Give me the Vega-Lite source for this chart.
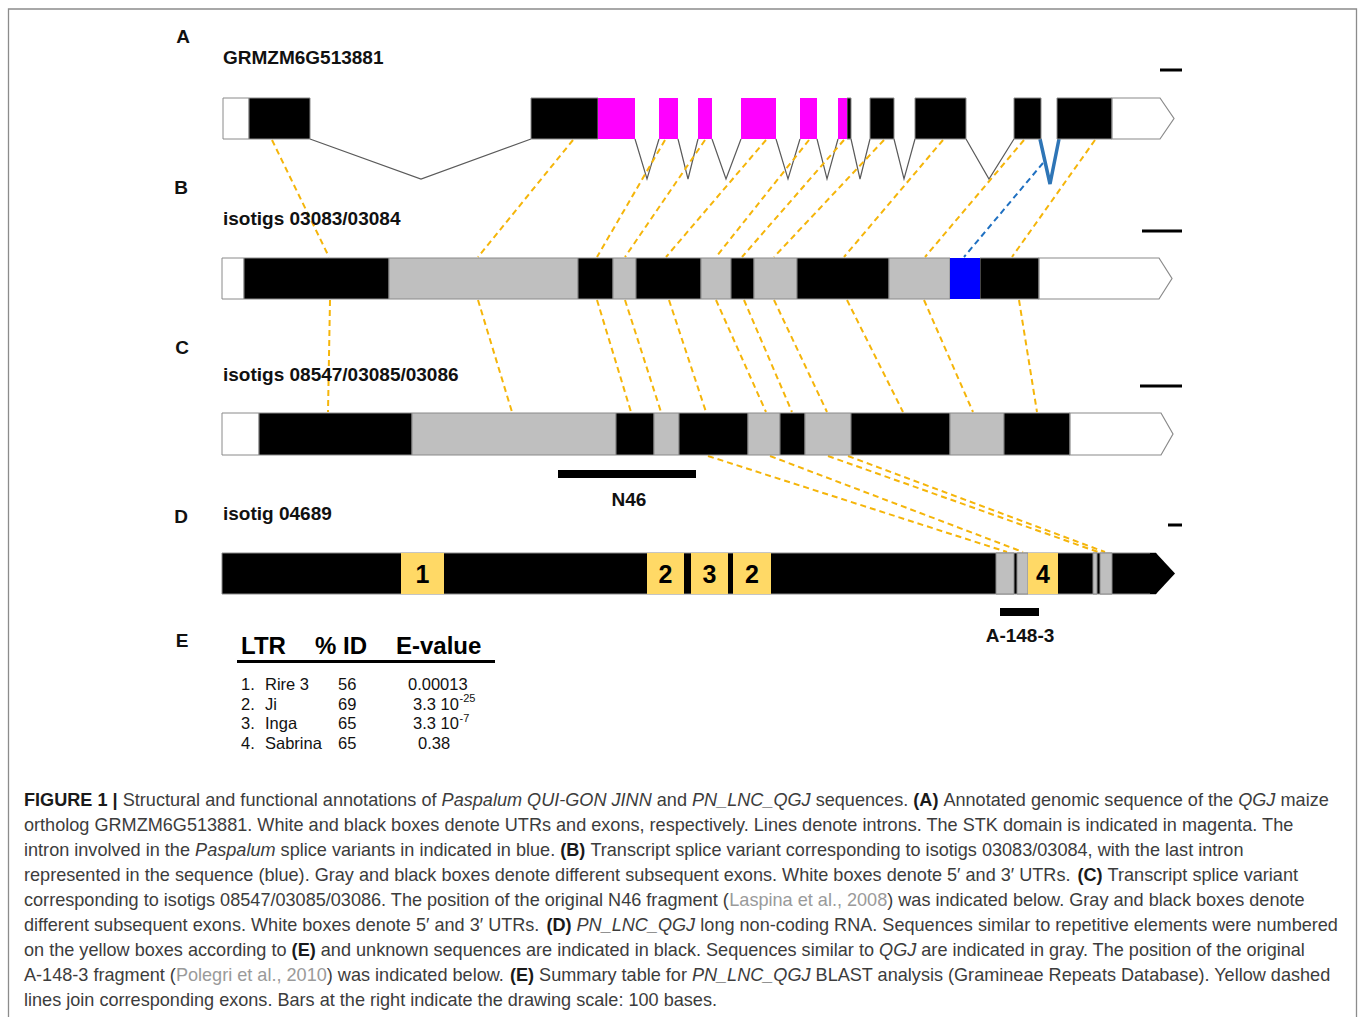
{
  "$schema": "https://vega.github.io/schema/vega-lite/v6.json",
  "width": 1358,
  "height": 1017,
  "autosize": {"type": "fit", "contains": "padding"},
  "padding": 0,
  "background": "white",
  "config": {"view": {"stroke": null}},
  "datasets": {
    "frame": [{"x": 8.5, "x2": 1356.5, "y": 9, "y2": 1040}],
    "boxes": [
      {"track": "A", "x": 223, "x2": 249, "y": 98, "y2": 139, "part": "utr"},
      {"track": "A", "x": 249, "x2": 310, "y": 98, "y2": 139, "part": "exon"},
      {"track": "A", "x": 531, "x2": 598, "y": 98, "y2": 139, "part": "exon"},
      {"track": "A", "x": 598, "x2": 635, "y": 98, "y2": 139, "part": "stk"},
      {"track": "A", "x": 659, "x2": 678, "y": 98, "y2": 139, "part": "stk"},
      {"track": "A", "x": 698, "x2": 712, "y": 98, "y2": 139, "part": "stk"},
      {"track": "A", "x": 741, "x2": 776, "y": 98, "y2": 139, "part": "stk"},
      {"track": "A", "x": 800, "x2": 817, "y": 98, "y2": 139, "part": "stk"},
      {"track": "A", "x": 838, "x2": 847, "y": 98, "y2": 139, "part": "stk"},
      {"track": "A", "x": 847, "x2": 851, "y": 98, "y2": 139, "part": "exon"},
      {"track": "A", "x": 870, "x2": 894, "y": 98, "y2": 139, "part": "exon"},
      {"track": "A", "x": 915, "x2": 966, "y": 98, "y2": 139, "part": "exon"},
      {"track": "A", "x": 1014, "x2": 1041, "y": 98, "y2": 139, "part": "exon"},
      {"track": "A", "x": 1057, "x2": 1112, "y": 98, "y2": 139, "part": "exon"},
      {"track": "B", "x": 222, "x2": 244, "y": 258, "y2": 299, "part": "utr"},
      {"track": "B", "x": 244, "x2": 389, "y": 258, "y2": 299, "part": "exon"},
      {"track": "B", "x": 389, "x2": 578, "y": 258, "y2": 299, "part": "alt"},
      {"track": "B", "x": 578, "x2": 613, "y": 258, "y2": 299, "part": "exon"},
      {"track": "B", "x": 613, "x2": 636, "y": 258, "y2": 299, "part": "alt"},
      {"track": "B", "x": 636, "x2": 701, "y": 258, "y2": 299, "part": "exon"},
      {"track": "B", "x": 701, "x2": 731, "y": 258, "y2": 299, "part": "alt"},
      {"track": "B", "x": 731, "x2": 754, "y": 258, "y2": 299, "part": "exon"},
      {"track": "B", "x": 754, "x2": 797, "y": 258, "y2": 299, "part": "alt"},
      {"track": "B", "x": 797, "x2": 889, "y": 258, "y2": 299, "part": "exon"},
      {"track": "B", "x": 889, "x2": 950, "y": 258, "y2": 299, "part": "alt"},
      {"track": "B", "x": 950, "x2": 980, "y": 258, "y2": 299, "part": "blue"},
      {"track": "B", "x": 980, "x2": 1039, "y": 258, "y2": 299, "part": "exon"},
      {"track": "C", "x": 222, "x2": 259, "y": 413, "y2": 455, "part": "utr"},
      {"track": "C", "x": 259, "x2": 412, "y": 413, "y2": 455, "part": "exon"},
      {"track": "C", "x": 412, "x2": 616, "y": 413, "y2": 455, "part": "alt"},
      {"track": "C", "x": 616, "x2": 654, "y": 413, "y2": 455, "part": "exon"},
      {"track": "C", "x": 654, "x2": 679, "y": 413, "y2": 455, "part": "alt"},
      {"track": "C", "x": 679, "x2": 748, "y": 413, "y2": 455, "part": "exon"},
      {"track": "C", "x": 748, "x2": 780, "y": 413, "y2": 455, "part": "alt"},
      {"track": "C", "x": 780, "x2": 805, "y": 413, "y2": 455, "part": "exon"},
      {"track": "C", "x": 805, "x2": 851, "y": 413, "y2": 455, "part": "alt"},
      {"track": "C", "x": 851, "x2": 950, "y": 413, "y2": 455, "part": "exon"},
      {"track": "C", "x": 950, "x2": 1004, "y": 413, "y2": 455, "part": "alt"},
      {"track": "C", "x": 1004, "x2": 1070, "y": 413, "y2": 455, "part": "exon"},
      {"track": "D", "x": 222, "x2": 1156, "y": 553, "y2": 594, "part": "exon"},
      {"track": "D", "x": 996, "x2": 1014, "y": 553, "y2": 594, "part": "similar"},
      {"track": "D", "x": 1017, "x2": 1028, "y": 553, "y2": 594, "part": "similar"},
      {"track": "D", "x": 1093, "x2": 1097, "y": 553, "y2": 594, "part": "similar"},
      {"track": "D", "x": 1100, "x2": 1112, "y": 553, "y2": 594, "part": "similar"},
      {"track": "D", "x": 401, "x2": 444, "y": 553, "y2": 594, "part": "repeat"},
      {"track": "D", "x": 647, "x2": 684, "y": 553, "y2": 594, "part": "repeat"},
      {"track": "D", "x": 691, "x2": 728, "y": 553, "y2": 594, "part": "repeat"},
      {"track": "D", "x": 733, "x2": 771, "y": 553, "y2": 594, "part": "repeat"},
      {"track": "D", "x": 1028, "x2": 1058, "y": 553, "y2": 594, "part": "repeat"}
    ],
    "arrows": [
      {"track": "A", "x": 1112, "y": 98, "y2": 139, "part": "utr"},
      {"track": "A", "x": 1160, "y": 98, "y2": 139, "part": "utr"},
      {"track": "A", "x": 1174, "y": 118.5, "y2": 118.5, "part": "utr"},
      {"track": "B", "x": 1039, "y": 258, "y2": 299, "part": "utr"},
      {"track": "B", "x": 1159, "y": 258, "y2": 299, "part": "utr"},
      {"track": "B", "x": 1172, "y": 278.5, "y2": 278.5, "part": "utr"},
      {"track": "C", "x": 1070, "y": 413, "y2": 455, "part": "utr"},
      {"track": "C", "x": 1161, "y": 413, "y2": 455, "part": "utr"},
      {"track": "C", "x": 1173, "y": 434, "y2": 434, "part": "utr"},
      {"track": "D", "x": 1150, "y": 553, "y2": 594, "part": "exon"},
      {"track": "D", "x": 1156, "y": 553, "y2": 594, "part": "exon"},
      {"track": "D", "x": 1175, "y": 573.5, "y2": 573.5, "part": "exon"}
    ],
    "introns": [
      {"id": 1, "ord": 0, "x": 310, "y": 139, "kind": "intron"},
      {"id": 1, "ord": 1, "x": 421, "y": 179, "kind": "intron"},
      {"id": 1, "ord": 2, "x": 531, "y": 139, "kind": "intron"},
      {"id": 2, "ord": 0, "x": 635, "y": 139, "kind": "intron"},
      {"id": 2, "ord": 1, "x": 647, "y": 179, "kind": "intron"},
      {"id": 2, "ord": 2, "x": 659, "y": 139, "kind": "intron"},
      {"id": 3, "ord": 0, "x": 678, "y": 139, "kind": "intron"},
      {"id": 3, "ord": 1, "x": 688, "y": 179, "kind": "intron"},
      {"id": 3, "ord": 2, "x": 698, "y": 139, "kind": "intron"},
      {"id": 4, "ord": 0, "x": 712, "y": 139, "kind": "intron"},
      {"id": 4, "ord": 1, "x": 726, "y": 179, "kind": "intron"},
      {"id": 4, "ord": 2, "x": 741, "y": 139, "kind": "intron"},
      {"id": 5, "ord": 0, "x": 776, "y": 139, "kind": "intron"},
      {"id": 5, "ord": 1, "x": 788, "y": 179, "kind": "intron"},
      {"id": 5, "ord": 2, "x": 800, "y": 139, "kind": "intron"},
      {"id": 6, "ord": 0, "x": 817, "y": 139, "kind": "intron"},
      {"id": 6, "ord": 1, "x": 827, "y": 179, "kind": "intron"},
      {"id": 6, "ord": 2, "x": 838, "y": 139, "kind": "intron"},
      {"id": 7, "ord": 0, "x": 851, "y": 139, "kind": "intron"},
      {"id": 7, "ord": 1, "x": 860, "y": 179, "kind": "intron"},
      {"id": 7, "ord": 2, "x": 870, "y": 139, "kind": "intron"},
      {"id": 8, "ord": 0, "x": 894, "y": 139, "kind": "intron"},
      {"id": 8, "ord": 1, "x": 904, "y": 179, "kind": "intron"},
      {"id": 8, "ord": 2, "x": 915, "y": 139, "kind": "intron"},
      {"id": 9, "ord": 0, "x": 966, "y": 139, "kind": "intron"},
      {"id": 9, "ord": 1, "x": 989, "y": 179, "kind": "intron"},
      {"id": 9, "ord": 2, "x": 1014, "y": 139, "kind": "intron"},
      {"id": 10, "ord": 0, "x": 1040, "y": 139, "kind": "blue"},
      {"id": 10, "ord": 1, "x": 1050, "y": 184, "kind": "blue"},
      {"id": 10, "ord": 2, "x": 1059, "y": 139, "kind": "blue"}
    ],
    "links": [
      {"x": 272, "y": 140, "x2": 329, "y2": 257, "kind": "yellow"},
      {"x": 573, "y": 140, "x2": 478, "y2": 257, "kind": "yellow"},
      {"x": 665, "y": 140, "x2": 597, "y2": 257, "kind": "yellow"},
      {"x": 705, "y": 140, "x2": 625, "y2": 257, "kind": "yellow"},
      {"x": 766, "y": 140, "x2": 666, "y2": 257, "kind": "yellow"},
      {"x": 809, "y": 140, "x2": 716, "y2": 257, "kind": "yellow"},
      {"x": 844, "y": 140, "x2": 742, "y2": 257, "kind": "yellow"},
      {"x": 884, "y": 140, "x2": 774, "y2": 257, "kind": "yellow"},
      {"x": 943, "y": 140, "x2": 844, "y2": 257, "kind": "yellow"},
      {"x": 1024, "y": 140, "x2": 925, "y2": 257, "kind": "yellow"},
      {"x": 1095, "y": 140, "x2": 1012, "y2": 257, "kind": "yellow"},
      {"x": 1043, "y": 163, "x2": 964, "y2": 257, "kind": "blue"},
      {"x": 330, "y": 300, "x2": 328, "y2": 412, "kind": "yellow"},
      {"x": 478, "y": 300, "x2": 512, "y2": 412, "kind": "yellow"},
      {"x": 597, "y": 300, "x2": 631, "y2": 412, "kind": "yellow"},
      {"x": 625, "y": 300, "x2": 661, "y2": 412, "kind": "yellow"},
      {"x": 669, "y": 300, "x2": 706, "y2": 412, "kind": "yellow"},
      {"x": 716, "y": 300, "x2": 766, "y2": 412, "kind": "yellow"},
      {"x": 744, "y": 300, "x2": 792, "y2": 412, "kind": "yellow"},
      {"x": 774, "y": 300, "x2": 827, "y2": 412, "kind": "yellow"},
      {"x": 847, "y": 300, "x2": 903, "y2": 412, "kind": "yellow"},
      {"x": 924, "y": 300, "x2": 973, "y2": 412, "kind": "yellow"},
      {"x": 1019, "y": 300, "x2": 1037, "y2": 412, "kind": "yellow"},
      {"x": 708, "y": 456, "x2": 1007, "y2": 552, "kind": "yellow"},
      {"x": 770, "y": 456, "x2": 1023, "y2": 552, "kind": "yellow"},
      {"x": 828, "y": 456, "x2": 1098, "y2": 552, "kind": "yellow"},
      {"x": 848, "y": 456, "x2": 1105, "y2": 552, "kind": "yellow"}
    ],
    "bars": [
      {"name": "scale A", "x": 1160, "x2": 1182, "y": 68.5, "y2": 71.5},
      {"name": "scale B", "x": 1142, "x2": 1182, "y": 229.5, "y2": 232.5},
      {"name": "scale C", "x": 1140, "x2": 1182, "y": 384.5, "y2": 387.5},
      {"name": "scale D", "x": 1168, "x2": 1182, "y": 523.5, "y2": 526.5},
      {"name": "N46", "x": 558, "x2": 696, "y": 470, "y2": 478},
      {"name": "A-148-3", "x": 1000, "x2": 1039, "y": 608, "y2": 616},
      {"name": "table rule", "x": 237, "x2": 495, "y": 660, "y2": 663}
    ],
    "labels": [
      {"role": "panel", "text": "A", "x": 183, "y": 37},
      {"role": "panel", "text": "B", "x": 181, "y": 188},
      {"role": "panel", "text": "C", "x": 182, "y": 348},
      {"role": "panel", "text": "D", "x": 181, "y": 517},
      {"role": "panel", "text": "E", "x": 182, "y": 641},
      {"role": "title", "text": "GRMZM6G513881", "x": 223, "y": 58},
      {"role": "title", "text": "isotigs 03083/03084", "x": 223, "y": 219},
      {"role": "title", "text": "isotigs 08547/03085/03086", "x": 223, "y": 375},
      {"role": "title", "text": "isotig 04689", "x": 223, "y": 514},
      {"role": "fragment", "text": "N46", "x": 629, "y": 500},
      {"role": "fragment", "text": "A-148-3", "x": 1020, "y": 636},
      {"role": "repeat", "text": "1", "x": 422.5, "y": 575},
      {"role": "repeat", "text": "2", "x": 665.5, "y": 575},
      {"role": "repeat", "text": "3", "x": 709.5, "y": 575},
      {"role": "repeat", "text": "2", "x": 752, "y": 575},
      {"role": "repeat", "text": "4", "x": 1043, "y": 575},
      {"role": "header", "text": "LTR", "x": 241, "y": 647},
      {"role": "header", "text": "% ID", "x": 315, "y": 647},
      {"role": "header", "text": "E-value", "x": 396, "y": 647},
      {"role": "cell", "text": "1.", "x": 241, "y": 685},
      {"role": "cell", "text": "Rire 3", "x": 265, "y": 685},
      {"role": "cell", "text": "56", "x": 338, "y": 685},
      {"role": "cell", "text": "0.00013", "x": 408, "y": 685},
      {"role": "cell", "text": "2.", "x": 241, "y": 704.5},
      {"role": "cell", "text": "Ji", "x": 265, "y": 704.5},
      {"role": "cell", "text": "69", "x": 338, "y": 704.5},
      {"role": "cell", "text": "3.3 10", "x": 413, "y": 704.5},
      {"role": "sup", "text": "-25", "x": 459.5, "y": 699},
      {"role": "cell", "text": "3.", "x": 241, "y": 724},
      {"role": "cell", "text": "Inga", "x": 265, "y": 724},
      {"role": "cell", "text": "65", "x": 338, "y": 724},
      {"role": "cell", "text": "3.3 10", "x": 413, "y": 724},
      {"role": "sup", "text": "-7", "x": 459.5, "y": 718.5},
      {"role": "cell", "text": "4.", "x": 241, "y": 743.5},
      {"role": "cell", "text": "Sabrina", "x": 265, "y": 743.5},
      {"role": "cell", "text": "65", "x": 338, "y": 743.5},
      {"role": "cell", "text": "0.38", "x": 418, "y": 743.5}
    ],
    "caption": [
      {"line": 1, "x": 24, "y": 801, "emph": "bold", "text": "FIGURE 1 |"},
      {"line": 1, "x": 122.7, "y": 801, "emph": "plain", "text": "Structural and functional annotations of"},
      {"line": 1, "x": 441.6, "y": 801, "emph": "italic", "text": "Paspalum QUI-GON JINN"},
      {"line": 1, "x": 656.8, "y": 801, "emph": "plain", "text": "and"},
      {"line": 1, "x": 692.0, "y": 801, "emph": "italic", "text": "PN_LNC_QGJ"},
      {"line": 1, "x": 815.7, "y": 801, "emph": "plain", "text": "sequences."},
      {"line": 1, "x": 913.3, "y": 801, "emph": "bold", "text": "(A)"},
      {"line": 1, "x": 943.4, "y": 801, "emph": "plain", "text": "Annotated genomic sequence of the"},
      {"line": 1, "x": 1238.2, "y": 801, "emph": "italic", "text": "QGJ"},
      {"line": 1, "x": 1280.5, "y": 801, "emph": "plain", "text": "maize"},
      {"line": 2, "x": 24, "y": 826, "emph": "plain", "text": "ortholog GRMZM6G513881. White and black boxes denote UTRs and exons, respectively. Lines denote introns. The STK domain is indicated in magenta. The"},
      {"line": 3, "x": 24, "y": 851, "emph": "plain", "text": "intron involved in the"},
      {"line": 3, "x": 195.1, "y": 851, "emph": "italic", "text": "Paspalum"},
      {"line": 3, "x": 280.6, "y": 851, "emph": "plain", "text": "splice variants in indicated in blue."},
      {"line": 3, "x": 560.2, "y": 851, "emph": "bold", "text": "(B)"},
      {"line": 3, "x": 590.4, "y": 851, "emph": "plain", "text": "Transcript splice variant corresponding to isotigs 03083/03084, with the last intron"},
      {"line": 4, "x": 24, "y": 876, "emph": "plain", "text": "represented in the sequence (blue). Gray and black boxes denote different subsequent exons. White boxes denote 5′ and 3′ UTRs."},
      {"line": 4, "x": 1077.5, "y": 876, "emph": "bold", "text": "(C)"},
      {"line": 4, "x": 1107.6, "y": 876, "emph": "plain", "text": "Transcript splice variant"},
      {"line": 5, "x": 24, "y": 901, "emph": "plain", "text": "corresponding to isotigs 08547/03085/03086. The position of the original N46 fragment ("},
      {"line": 5, "x": 729.3, "y": 901, "emph": "cite", "text": "Laspina et al., 2008"},
      {"line": 5, "x": 887.2, "y": 901, "emph": "plain", "text": ") was indicated below. Gray and black boxes denote"},
      {"line": 6, "x": 24, "y": 926, "emph": "plain", "text": "different subsequent exons. White boxes denote 5′ and 3′ UTRs."},
      {"line": 6, "x": 546.4, "y": 926, "emph": "bold", "text": "(D)"},
      {"line": 6, "x": 576.5, "y": 926, "emph": "italic", "text": "PN_LNC_QGJ"},
      {"line": 6, "x": 700.3, "y": 926, "emph": "plain", "text": "long non-coding RNA. Sequences similar to repetitive elements were numbered"},
      {"line": 7, "x": 24, "y": 951, "emph": "plain", "text": "on the yellow boxes according to"},
      {"line": 7, "x": 291.6, "y": 951, "emph": "bold", "text": "(E)"},
      {"line": 7, "x": 320.8, "y": 951, "emph": "plain", "text": "and unknown sequences are indicated in black. Sequences similar to"},
      {"line": 7, "x": 879.1, "y": 951, "emph": "italic", "text": "QGJ"},
      {"line": 7, "x": 921.3, "y": 951, "emph": "plain", "text": "are indicated in gray. The position of the original"},
      {"line": 8, "x": 24, "y": 976, "emph": "plain", "text": "A-148-3 fragment ("},
      {"line": 8, "x": 175.9, "y": 976, "emph": "cite", "text": "Polegri et al., 2010"},
      {"line": 8, "x": 326.8, "y": 976, "emph": "plain", "text": ") was indicated below."},
      {"line": 8, "x": 509.9, "y": 976, "emph": "bold", "text": "(E)"},
      {"line": 8, "x": 539.1, "y": 976, "emph": "plain", "text": "Summary table for"},
      {"line": 8, "x": 691.9, "y": 976, "emph": "italic", "text": "PN_LNC_QGJ"},
      {"line": 8, "x": 815.6, "y": 976, "emph": "plain", "text": "BLAST analysis (Gramineae Repeats Database). Yellow dashed"},
      {"line": 9, "x": 24, "y": 1001, "emph": "plain", "text": "lines join corresponding exons. Bars at the right indicate the drawing scale: 100 bases."}
    ]
  },
  "encoding": {
    "x": {"field": "x", "type": "quantitative", "scale": {"domain": [0, 1358], "nice": false, "zero": false}, "axis": null},
    "y": {"field": "y", "type": "quantitative", "scale": {"domain": [0, 1017], "nice": false, "zero": false, "reverse": true}, "axis": null}
  },
  "layer": [
    {
      "data": {"name": "frame"},
      "mark": {"type": "rect", "filled": false, "stroke": "#8c8c8c", "strokeWidth": 1.3, "clip": true},
      "encoding": {"x2": {"field": "x2"}, "y2": {"field": "y2"}}
    },
    {
      "data": {"name": "introns"},
      "transform": [{"filter": "datum.kind === 'intron'"}],
      "mark": {"type": "line", "stroke": "#5a5a5a", "strokeWidth": 1.2},
      "encoding": {"detail": {"field": "id", "type": "nominal"}, "order": {"field": "ord", "type": "quantitative"}}
    },
    {
      "data": {"name": "introns"},
      "transform": [{"filter": "datum.kind === 'blue'"}],
      "mark": {"type": "line", "stroke": "#2e75b6", "strokeWidth": 3.5},
      "encoding": {"detail": {"field": "id", "type": "nominal"}, "order": {"field": "ord", "type": "quantitative"}}
    },
    {
      "data": {"name": "links"},
      "transform": [{"filter": "datum.kind === 'yellow'"}],
      "mark": {"type": "rule", "stroke": "#f5b50a", "strokeWidth": 2, "strokeDash": [6, 4]},
      "encoding": {"x2": {"field": "x2"}, "y2": {"field": "y2"}}
    },
    {
      "data": {"name": "links"},
      "transform": [{"filter": "datum.kind === 'blue'"}],
      "mark": {"type": "rule", "stroke": "#1f70c1", "strokeWidth": 2, "strokeDash": [6, 4]},
      "encoding": {"x2": {"field": "x2"}, "y2": {"field": "y2"}}
    },
    {
      "data": {"name": "boxes"},
      "transform": [{"filter": "indexof(['utr','exon','alt','similar'], datum.part) >= 0"}],
      "mark": {"type": "rect", "stroke": "#8a8a8a", "strokeWidth": 1},
      "encoding": {
        "x2": {"field": "x2"},
        "y2": {"field": "y2"},
        "color": {"field": "part", "type": "nominal", "legend": null,
          "scale": {"domain": ["utr", "exon", "stk", "alt", "blue", "repeat", "similar"],
                    "range": ["#ffffff", "#000000", "#ff00ff", "#bfbfbf", "#0000ff", "#ffd966", "#bfbfbf"]}}
      }
    },
    {
      "data": {"name": "boxes"},
      "transform": [{"filter": "indexof(['stk','blue','repeat'], datum.part) >= 0"}],
      "mark": {"type": "rect"},
      "encoding": {
        "x2": {"field": "x2"},
        "y2": {"field": "y2"},
        "color": {"field": "part", "type": "nominal", "legend": null,
          "scale": {"domain": ["utr", "exon", "stk", "alt", "blue", "repeat", "similar"],
                    "range": ["#ffffff", "#000000", "#ff00ff", "#bfbfbf", "#0000ff", "#ffd966", "#bfbfbf"]}}
      }
    },
    {
      "data": {"name": "arrows"},
      "transform": [{"filter": "datum.part === 'utr'"}],
      "mark": {"type": "area", "fill": "#ffffff", "stroke": "#8a8a8a", "strokeWidth": 1.2},
      "encoding": {
        "y": {"field": "y", "type": "quantitative", "stack": null, "scale": {"domain": [0, 1017], "nice": false, "zero": false, "reverse": true}, "axis": null},
        "y2": {"field": "y2"},
        "detail": {"field": "track", "type": "nominal"}
      }
    },
    {
      "data": {"name": "arrows"},
      "transform": [{"filter": "datum.part === 'exon'"}],
      "mark": {"type": "area", "fill": "#000000"},
      "encoding": {
        "y": {"field": "y", "type": "quantitative", "stack": null, "scale": {"domain": [0, 1017], "nice": false, "zero": false, "reverse": true}, "axis": null},
        "y2": {"field": "y2"},
        "detail": {"field": "track", "type": "nominal"}
      }
    },
    {
      "data": {"name": "bars"},
      "mark": {"type": "rect", "fill": "#000000"},
      "encoding": {"x2": {"field": "x2"}, "y2": {"field": "y2"}}
    },
    {
      "data": {"name": "labels"},
      "transform": [{"filter": "datum.role === 'panel' || datum.role === 'fragment'"}],
      "mark": {"type": "text", "align": "center", "baseline": "middle", "font": "Liberation Sans", "fontSize": 19, "fontWeight": "bold", "fill": "#111111"},
      "encoding": {"text": {"field": "text"}}
    },
    {
      "data": {"name": "labels"},
      "transform": [{"filter": "datum.role === 'title'"}],
      "mark": {"type": "text", "align": "left", "baseline": "middle", "font": "Liberation Sans", "fontSize": 19, "fontWeight": "bold", "fill": "#111111"},
      "encoding": {"text": {"field": "text"}}
    },
    {
      "data": {"name": "labels"},
      "transform": [{"filter": "datum.role === 'repeat'"}],
      "mark": {"type": "text", "align": "center", "baseline": "middle", "font": "Liberation Sans", "fontSize": 25, "fontWeight": "bold", "fill": "#000000"},
      "encoding": {"text": {"field": "text"}}
    },
    {
      "data": {"name": "labels"},
      "transform": [{"filter": "datum.role === 'header'"}],
      "mark": {"type": "text", "align": "left", "baseline": "middle", "font": "Liberation Sans", "fontSize": 24, "fontWeight": "bold", "fill": "#000000"},
      "encoding": {"text": {"field": "text"}}
    },
    {
      "data": {"name": "labels"},
      "transform": [{"filter": "datum.role === 'cell'"}],
      "mark": {"type": "text", "align": "left", "baseline": "middle", "font": "Liberation Sans", "fontSize": 16.5, "fill": "#111111"},
      "encoding": {"text": {"field": "text"}}
    },
    {
      "data": {"name": "labels"},
      "transform": [{"filter": "datum.role === 'sup'"}],
      "mark": {"type": "text", "align": "left", "baseline": "middle", "font": "Liberation Sans", "fontSize": 11, "fill": "#111111"},
      "encoding": {"text": {"field": "text"}}
    },
    {
      "data": {"name": "caption"},
      "transform": [{"filter": "datum.emph === 'plain'"}],
      "mark": {"type": "text", "align": "left", "baseline": "middle", "font": "Liberation Sans", "fontSize": 18.1, "fill": "#3c3c3c"},
      "encoding": {"text": {"field": "text"}}
    },
    {
      "data": {"name": "caption"},
      "transform": [{"filter": "datum.emph === 'italic'"}],
      "mark": {"type": "text", "align": "left", "baseline": "middle", "font": "Liberation Sans", "fontSize": 18.1, "fontStyle": "italic", "fill": "#3c3c3c"},
      "encoding": {"text": {"field": "text"}}
    },
    {
      "data": {"name": "caption"},
      "transform": [{"filter": "datum.emph === 'bold'"}],
      "mark": {"type": "text", "align": "left", "baseline": "middle", "font": "Liberation Sans", "fontSize": 18.1, "fontWeight": "bold", "fill": "#1a1a1a"},
      "encoding": {"text": {"field": "text"}}
    },
    {
      "data": {"name": "caption"},
      "transform": [{"filter": "datum.emph === 'cite'"}],
      "mark": {"type": "text", "align": "left", "baseline": "middle", "font": "Liberation Sans", "fontSize": 18.1, "fill": "#9a9a9a"},
      "encoding": {"text": {"field": "text"}}
    }
  ]
}
